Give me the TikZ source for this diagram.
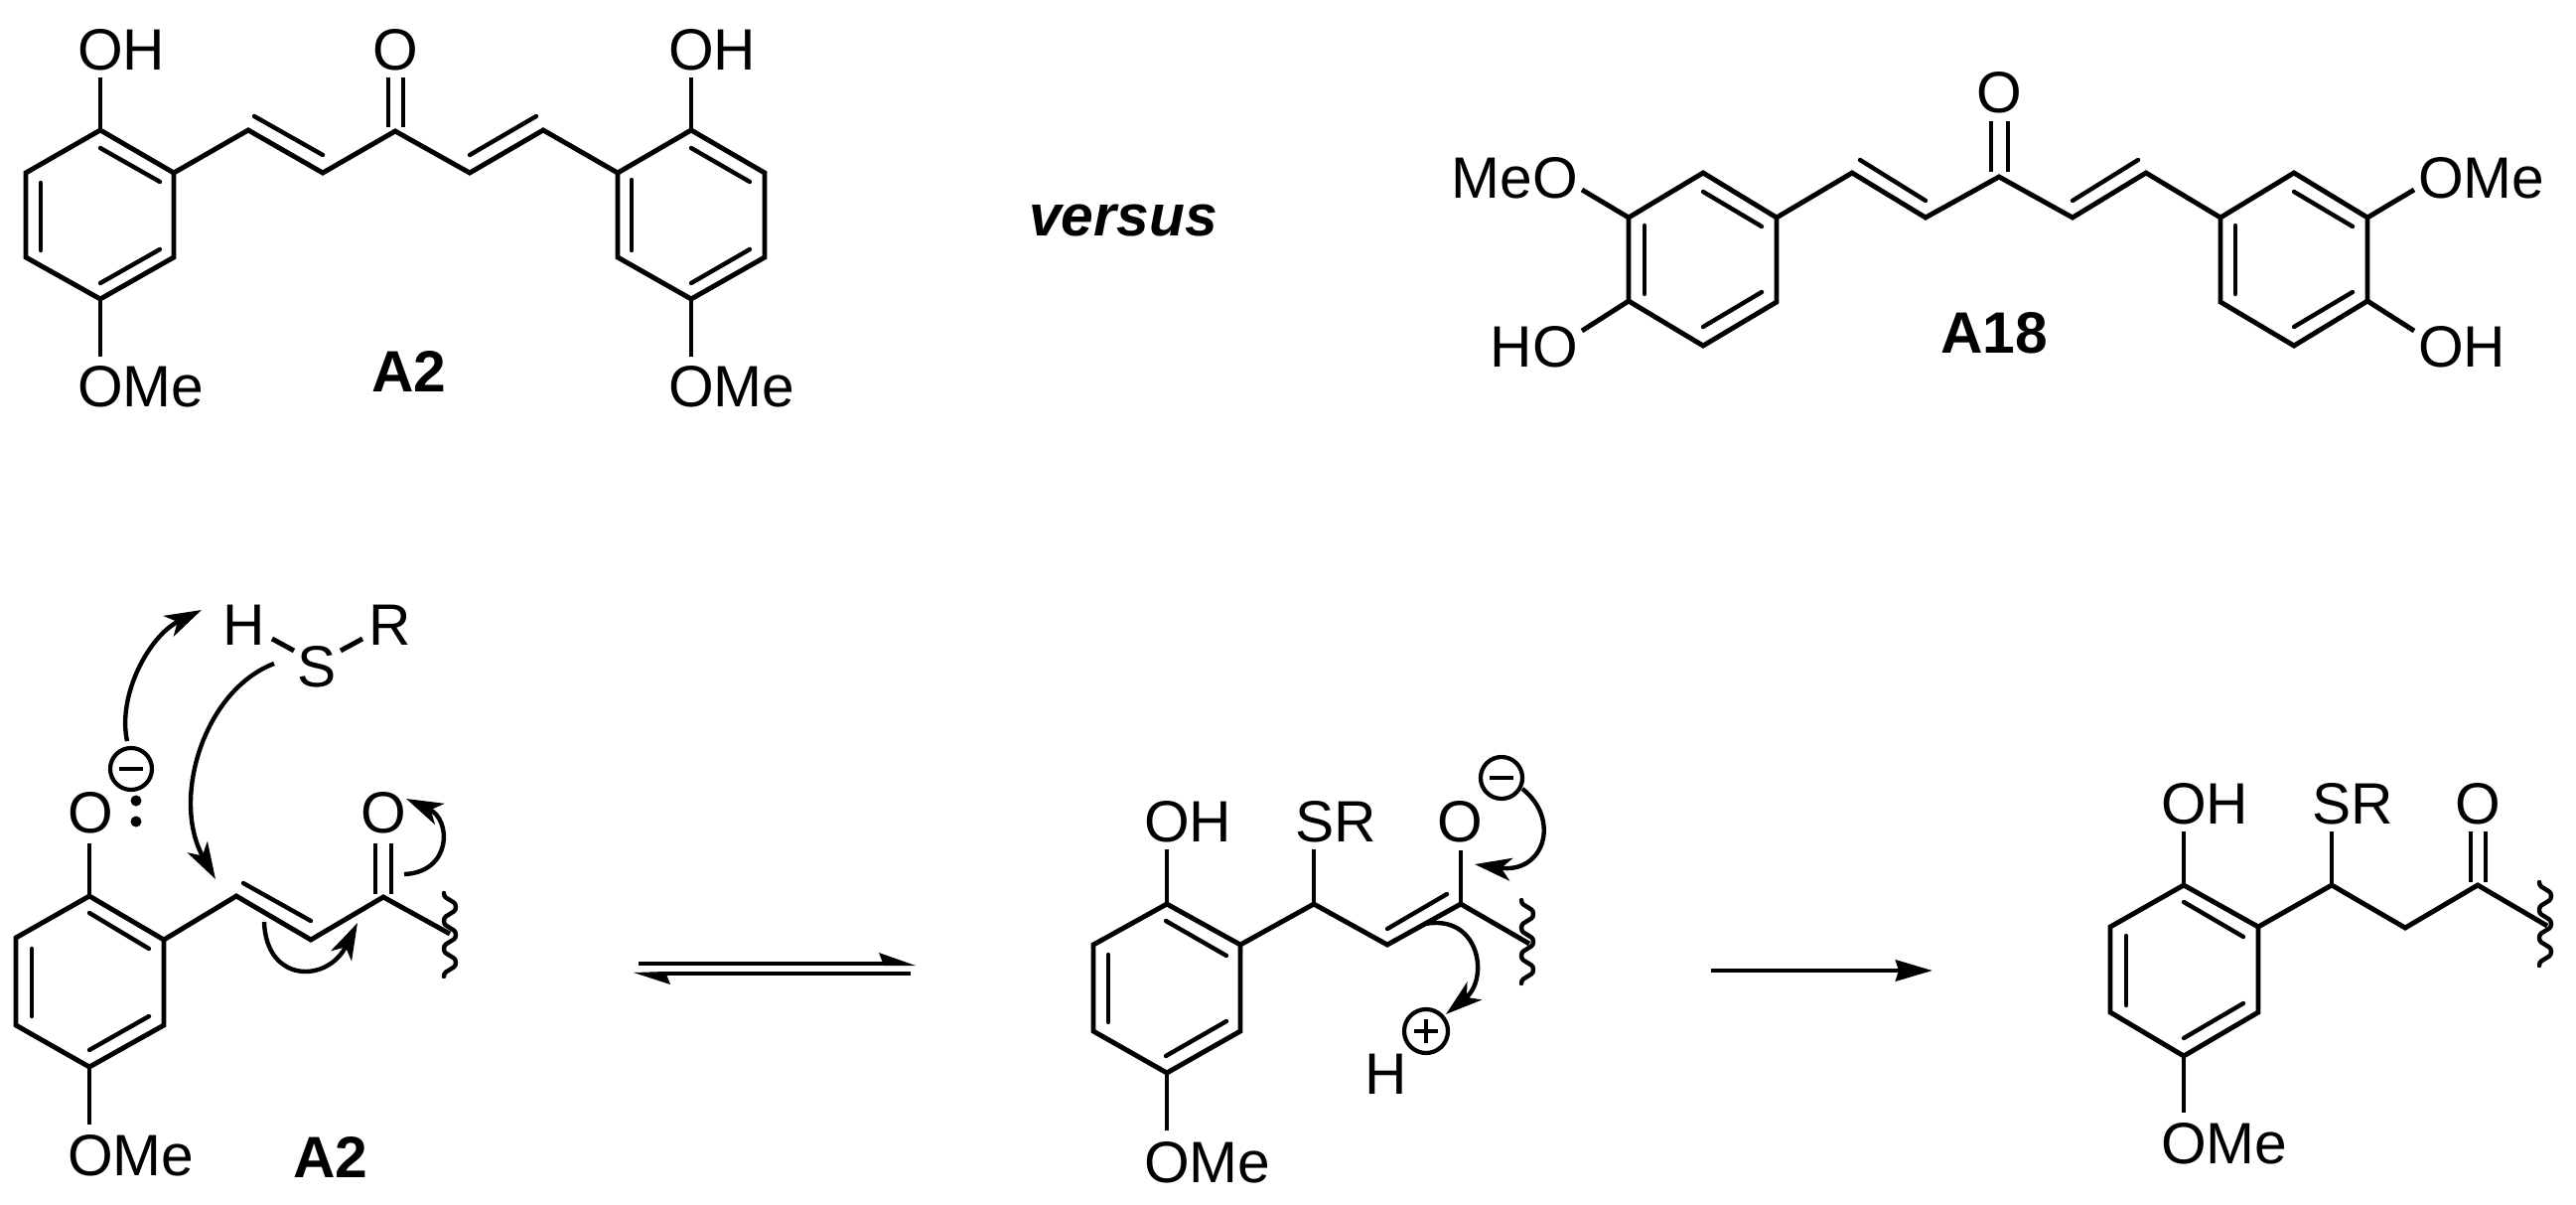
\documentclass[tikz,border=0pt]{standalone}
\usepackage{fontspec}
\setmainfont{Liberation Sans}
\usetikzlibrary{arrows.meta}
\newcommand\chemfont{\fontsize{16.7pt}{18pt}\selectfont}
\newcommand\squig[1]{\draw[wavy] ([shift={(-6,-42)}]#1)
  .. controls +(0,8) and +(0,-8) .. ++(12,14)
  .. controls +(0,8) and +(0,-8) .. ++(-12,14)
  .. controls +(0,8) and +(0,-8) .. ++(12,14)
  .. controls +(0,8) and +(0,-8) .. ++(-12,14)
  .. controls +(0,8) and +(0,-8) .. ++(12,14)
  .. controls +(0,8) and +(0,-8) .. ++(-12,14);}
\tikzset{
  bond/.style={line width=1.4pt,line join=miter,line cap=butt},
  inner/.style={line width=1.25pt,line cap=round},
  wavy/.style={line width=1.25pt,line cap=round},
  curly/.style={line width=1.25pt,-{Stealth[length=3.7mm,width=2.3mm,inset=1mm]}},
  atom/.style={font=\chemfont,inner sep=0pt,outer sep=0pt,anchor=base west},
  atomc/.style={font=\chemfont,inner sep=0pt,outer sep=0pt,anchor=base},
  atome/.style={font=\chemfont,inner sep=0pt,outer sep=0pt,anchor=base east},
  cpd/.style={font=\chemfont\bfseries,inner sep=0pt,outer sep=0pt,anchor=base},
  charge/.style={line width=1.2pt},
  rxn/.style={line width=1.4pt}
}
\begin{document}
\begin{tikzpicture}[x=.01cm,y=-.01cm]
\useasboundingbox[fill=white] (0,0) rectangle (2594,1212);
% ---------- atom positions
\foreach \n/\x/\y in {
  a1/101/131,a2/175/174,a3/175/259,a4/101/301,a5/26/259,a6/26/174,
  a7/250/131,a8/325/174,a9/398/132,a10/473/174,a11/547/131,a12/622/174,
  a13/696/131,a14/770/174,a15/770/259,a16/696/301,a17/622/259,
  aOH/101/78,aOMe/101/359,bOH/696/78,bOMe/696/359,
  aO1/391/78,aO2/391/128,aO3/406/78,aO4/406/128,
  c1/1715/174,c2/1789/219,c3/1789/304,c4/1715/348,c5/1640/303,c6/1640/219,
  c7/1865/174,c8/1939/219,c9/2013/178,c10/2087/219,c11/2161/174,c12/2236/219,
  c13/2310/174,c14/2384/219,c15/2384/303,c16/2310/348,c17/2236/304,
  cMeO/1593/191,cHO/1593/333,dOMe/2431/191,dOH/2431/333,
  cO1/2005/122,cO2/2005/173,cO3/2022/122,cO4/2022/173,
  e1/90/902,e2/165/946,e3/165/1032,e4/90/1074,e5/16/1032,e6/16/944,
  e7/238/902,e8/313/946,e9/386/903,e10/453/940,
  eO/90/849,eOMe/90/1132,eO1/378/849,eO2/378/900,eO3/394/849,eO4/394/900,
  eHa/274/643,eHb/296/655,eRa/343/655,eRb/365/643,
  f1/1175/910,f2/1249/951,f3/1249/1038,f4/1175/1080,f5/1101/1038,f6/1101/951,
  f7/1323/910,f8/1397/951,f9/1471/910,f10/1540/950,
  fOH/1175/855,fSR/1323/855,fO/1471/856,fOMe/1175/1138,
  g1/2199/891,g2/2274/933,g3/2274/1019,g4/2199/1063,g5/2125/1019,g6/2125/933,
  g7/2348/891,g8/2422/934,g9/2495/891,g10/2565/932,
  gOH/2199/837,gSR/2348/837,gOMe/2199/1120,
  gO1/2488/837,gO2/2488/888,gO3/2503/837,gO4/2503/888,
  sqe/453/941,sqf/1538/948,sqg/2563/930,
  eqAs/643/970,eqAe/890/970,eqAt/922/972,eqAb/885/959,
  eqBs/917/980,eqBe/670/980,eqBt/638/979,eqBb/675/991,
  rs/1723/977,re/1946/977,
  m1s/128/746,m1a/118/700,m1b/150/640,m1e/203/614,
  m2s/276/668,m2a/205/695,m2b/172/805,m2e/217/885,
  m3s/266/928,m3a/268/990,m3b/330/990,m3e/360/929,
  m4s/407/880,m4a/455/878,m4b/455/825,m4e/409/804,
  m5s/1533/794,m5a/1572/825,m5b/1555/880,m5e/1485/870,
  m6s/1435/930,m6a/1490/920,m6b/1500/985,m6e/1456/1021
}{\coordinate (\n) at (\x,\y);}
% ---------- skeletons
\draw[bond] (a1)--(a2)--(a3)--(a4)--(a5)--(a6)--cycle;
\draw[bond] (a2)--(a7)--(a8)--(a9)--(a10)--(a11)--(a12)--(a13)--(a14)--(a15)--(a16)--(a17)--(a12);
\draw[bond] (aOH)--(a1) (aOMe)--(a4) (bOH)--(a13) (bOMe)--(a16);
\draw[bond] (aO1)--(aO2) (aO3)--(aO4);
\draw[bond] (c1)--(c2)--(c3)--(c4)--(c5)--(c6)--cycle;
\draw[bond] (c2)--(c7)--(c8)--(c9)--(c10)--(c11)--(c12)--(c13)--(c14)--(c15)--(c16)--(c17)--(c12);
\draw[bond] (cMeO)--(c6) (cHO)--(c5) (dOMe)--(c14) (dOH)--(c15);
\draw[bond] (cO1)--(cO2) (cO3)--(cO4);
\draw[bond] (e1)--(e2)--(e3)--(e4)--(e5)--(e6)--cycle;
\draw[bond] (e2)--(e7)--(e8)--(e9)--(e10);
\draw[bond] (eO)--(e1) (eOMe)--(e4) (eO1)--(eO2) (eO3)--(eO4);
\draw[bond] (eHa)--(eHb) (eRa)--(eRb);
\draw[bond] (f1)--(f2)--(f3)--(f4)--(f5)--(f6)--cycle;
\draw[bond] (f2)--(f7)--(f8)--(f9)--(f10);
\draw[bond] (fOH)--(f1) (fSR)--(f7) (fO)--(f9) (fOMe)--(f4);
\draw[bond] (g1)--(g2)--(g3)--(g4)--(g5)--(g6)--cycle;
\draw[bond] (g2)--(g7)--(g8)--(g9)--(g10);
\draw[bond] (gOH)--(g1) (gSR)--(g7) (gOMe)--(g4) (gO1)--(gO2) (gO3)--(gO4);
% ---------- inner lines of double bonds
\foreach \p/\ax/\ay/\bx/\by in {
  i1/101/149/161/183,i2/41/184/41/252,i3/101/285/161/251,
  i4/256/117/325/156,i5/473/156/540/117,
  i6/696/149/755/183,i7/636/181/636/252,i8/696/285/755/251,
  j1/1715/193/1774/228,j2/1656/227/1656/296,j3/1715/329/1774/294,
  j4/1873/161/1939/202,j5/2087/202/2153/161,
  j6/2310/193/2369/228,j7/2251/227/2251/296,j8/2310/329/2369/294,
  k1/90/919/150/955,k2/32/955/32/1023,k3/90/1057/150/1023,k4/245/889/313/927,
  l1/1174/927/1235/962,l2/1116/961/1116/1029,l3/1174/1063/1235/1028,l4/1397/935/1457/900,
  n1/2199/908/2259/943,n2/2141/942/2141/1012,n3/2199/1045/2259/1010
}{\coordinate (\p s) at (\ax,\ay); \coordinate (\p e) at (\bx,\by); \draw[inner] (\p s)--(\p e);}
% ---------- wavy bond ends
\squig{sqe} \squig{sqf} \squig{sqg}
% ---------- labels
\node[atom] (tOH1) at (78,70) {OH};
\node[atomc] (tO) at (398,70) {O};
\node[atom] (tOH2) at (673,70) {OH};
\node[atom] (tOMe1) at (78,409) {OMe};
\node[atom] (tOMe2) at (673,409) {OMe};
\node[cpd] (tA2) at (412,394) {A2};
\node[font=\chemfont\bfseries\itshape,inner sep=0pt,anchor=base] (vs) at (1131,237) {versus};
\node[atomc] (uO) at (2013,113) {O};
\node[atome] (uMeO) at (1589,199) {MeO};
\node[atom] (uOMe) at (2435,199) {OMe};
\node[atome] (uHO) at (1589,369) {HO};
\node[atom] (uOH) at (2435,369) {OH};
\node[cpd] (uA18) at (2008,355) {A18};
\node[atomc] (vH) at (246,649) {H};
\node[atomc] (vS) at (319,691) {S};
\node[atomc] (vR) at (393,649) {R};
\node[atomc] (vO1) at (91,838) {O};
\node[atomc] (vO2) at (386,838) {O};
\node[atom] (vOMe) at (68,1183) {OMe};
\node[cpd] (vA2) at (333,1185) {A2};
\node[atom] (wOH) at (1152,847) {OH};
\node[atom] (wSR) at (1304,847) {SR};
\node[atomc] (wO) at (1470,847) {O};
\node[atomc] (wH) at (1396,1101) {H};
\node[atom] (wOMe) at (1152,1190) {OMe};
\node[atom] (xOH) at (2176,829) {OH};
\node[atom] (xSR) at (2328,829) {SR};
\node[atomc] (xO) at (2495,829) {O};
\node[atom] (xOMe) at (2176,1171) {OMe};
% ---------- charges and lone pair
\foreach \n/\x/\y in {cm1/132/774,cm2/1512/783}{
  \node[circle,draw,charge,minimum size=.42cm,inner sep=0pt] (\n) at (\x,\y) {};
  \draw[charge] ([xshift=-.12cm]\n.center)--([xshift=.12cm]\n.center);}
\node[circle,draw,charge,minimum size=.44cm,inner sep=0pt] (cp) at (1436,1038) {};
\draw[charge] ([xshift=-.12cm]cp.center)--([xshift=.12cm]cp.center);
\draw[charge] ([yshift=-.12cm]cp.center)--([yshift=.12cm]cp.center);
\fill (137,806) circle (5.5);
\fill (137,827) circle (5.5);
% ---------- electron-pushing arrows
\draw[curly] (m1s) .. controls (m1a) and (m1b) .. (m1e);
\draw[curly] (m2s) .. controls (m2a) and (m2b) .. (m2e);
\draw[curly] (m3s) .. controls (m3a) and (m3b) .. (m3e);
\draw[curly] (m4s) .. controls (m4a) and (m4b) .. (m4e);
\draw[curly] (m5s) .. controls (m5a) and (m5b) .. (m5e);
\draw[curly] (m6s) .. controls (m6a) and (m6b) .. (m6e);
% ---------- reaction arrows
\draw[rxn] (eqAs)--(eqAe);
\fill (eqAt)--(eqAb)--(890,972)--cycle;
\draw[rxn] (eqBs)--(eqBe);
\fill (eqBt)--(eqBb)--(670,978)--cycle;
\draw[rxn,-{Stealth[length=3.7mm,width=2.1mm,inset=.3mm]}] (rs)--(re);
\end{tikzpicture}
\end{document}
